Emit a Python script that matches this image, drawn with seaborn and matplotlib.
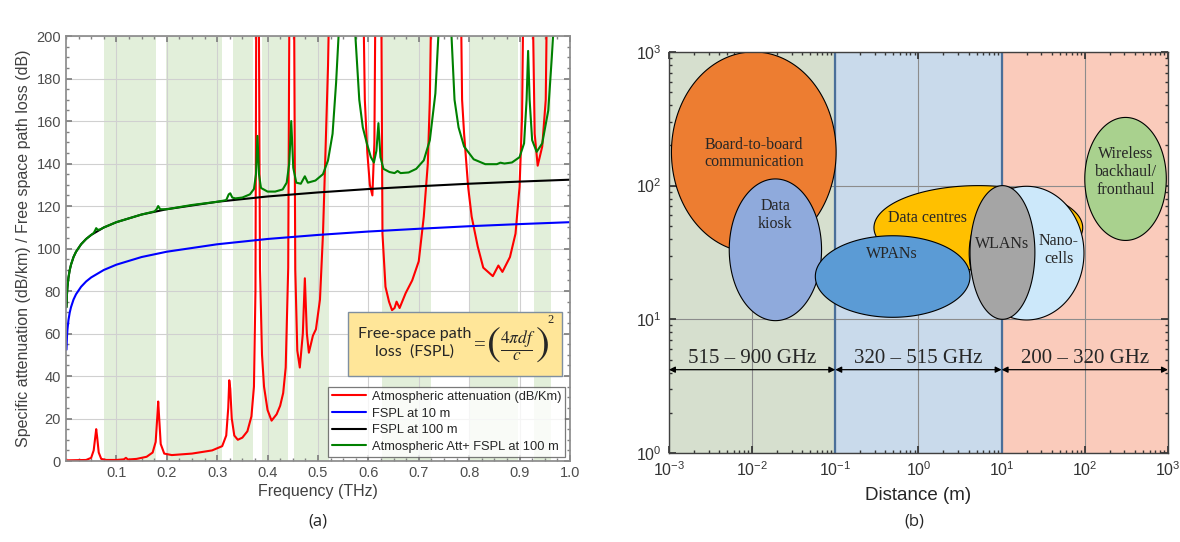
import numpy as np
import matplotlib
matplotlib.use("Agg")
import matplotlib.pyplot as plt
from matplotlib.ticker import MultipleLocator, FormatStrFormatter, LogLocator, NullFormatter
import seaborn as sns

# ---------------- panel (a): values ----------------
# free space path loss curves (dB)
freq_fspl = [0.001, 0.002, 0.003, 0.005, 0.0075, 0.01, 0.015, 0.02, 0.03, 0.04, 0.05,
             0.075, 0.1, 0.15, 0.2, 0.3, 0.4, 0.5, 0.6, 0.7, 0.8, 0.9, 1.0]
fspl_10m = [52.4, 58.5, 62.0, 66.4, 69.9, 72.4, 76.0, 78.5, 82.0, 84.5, 86.4,
            89.9, 92.4, 96.0, 98.5, 102.0, 104.5, 106.4, 108.0, 109.3, 110.5, 111.5, 112.4]
fspl_100m = [72.4, 78.5, 82.0, 86.4, 89.9, 92.4, 96.0, 98.5, 102.0, 104.5, 106.4,
             109.9, 112.4, 116.0, 118.5, 122.0, 124.5, 126.4, 128.0, 129.3, 130.5, 131.5, 132.4]

# atmospheric attenuation (dB/km), peaks run far off the top of the axes
freq_atm = [0.000, 0.040, 0.050, 0.055, 0.058, 0.060, 0.062, 0.065, 0.070, 0.080,
            0.100, 0.115, 0.119, 0.123, 0.140, 0.160, 0.172, 0.178, 0.181, 0.183,
            0.185, 0.188, 0.195, 0.210, 0.250, 0.290, 0.310, 0.318, 0.322, 0.324,
            0.326, 0.329, 0.334, 0.341, 0.350, 0.360, 0.368, 0.373, 0.376, 0.378,
            0.380, 0.382, 0.385, 0.389, 0.393, 0.400, 0.408, 0.418, 0.425, 0.431,
            0.436, 0.441, 0.444, 0.448, 0.452, 0.455, 0.459, 0.464, 0.470, 0.474,
            0.478, 0.482, 0.490, 0.496, 0.504, 0.510, 0.515, 0.520, 0.525, 0.557,
            0.588, 0.593, 0.598, 0.603, 0.608, 0.612, 0.615, 0.620, 0.625, 0.628,
            0.634, 0.641, 0.647, 0.652, 0.656, 0.662, 0.674, 0.687, 0.700, 0.710,
            0.718, 0.722, 0.727, 0.752, 0.782, 0.786, 0.790, 0.798, 0.805, 0.817,
            0.828, 0.847, 0.858, 0.866, 0.881, 0.892, 0.900, 0.905, 0.909, 0.916,
            0.924, 0.930, 0.936, 0.945, 0.952, 0.956, 0.980, 1.000]
atm_att = [0.3, 0.5, 1.5, 5, 11, 15, 11, 4, 1, 0.5,
           0.5, 0.8, 1.5, 0.7, 1.0, 2.0, 4, 9, 20, 28,
           20, 8, 3.5, 2.8, 3.5, 5.0, 7.0, 12, 25, 38,
           34, 20, 12, 10, 11, 14, 21, 35, 80, 250,
           3000, 250, 90, 50, 35, 24, 19, 22, 26, 32,
           44, 91, 250, 2500, 250, 90, 52, 44, 60, 86,
           60, 51, 59, 62, 76, 107, 146, 186, 250, 30000,
           250, 170, 145, 130, 125, 150, 250, 1500, 250, 107,
           82, 75, 71, 72, 75, 72, 79, 85, 94, 115,
           140, 170, 250, 20000, 250, 170, 154, 129, 115, 101,
           91, 87, 92, 89, 96, 107, 129, 162, 250, 2000,
           250, 154, 139, 148, 170, 250, 20000, 20000]

# atmospheric attenuation over 100 m + FSPL at 100 m (dB)
freq_total = [0.001, 0.002, 0.003, 0.005, 0.0075, 0.010, 0.015, 0.020, 0.030, 0.040,
              0.050, 0.055, 0.058, 0.060, 0.063, 0.068, 0.075, 0.100, 0.150, 0.176,
              0.180, 0.183, 0.187, 0.200, 0.250, 0.300, 0.318, 0.323, 0.326, 0.330,
              0.336, 0.350, 0.365, 0.373, 0.377, 0.380, 0.383, 0.387, 0.400, 0.415,
              0.430, 0.438, 0.443, 0.447, 0.451, 0.457, 0.466, 0.474, 0.480, 0.495,
              0.510, 0.520, 0.529, 0.536, 0.542, 0.557, 0.573, 0.582, 0.589, 0.597,
              0.605, 0.611, 0.616, 0.620, 0.624, 0.630, 0.642, 0.652, 0.658, 0.664,
              0.680, 0.695, 0.710, 0.722, 0.733, 0.740, 0.752, 0.764, 0.771, 0.779,
              0.790, 0.809, 0.832, 0.855, 0.862, 0.870, 0.885, 0.900, 0.909, 0.914,
              0.917, 0.920, 0.925, 0.934, 0.945, 0.957, 0.964, 0.969, 0.985, 1.000]
atm_fspl_100m = [72.4, 78.5, 82.0, 86.4, 89.9, 92.4, 96.0, 98.5, 102.0, 104.5,
                 106.4, 107.3, 108.6, 109.6, 108.8, 109.0, 109.9, 112.4, 116.0, 117.5,
                 118.6, 120.0, 118.5, 118.5, 120.5, 122.0, 122.8, 125.5, 126.0, 124.0,
                 123.6, 124.0, 125.5, 128.0, 135.0, 153.0, 135.0, 128.5, 126.8, 126.8,
                 127.8, 131.0, 140.0, 160.0, 138.0, 131.0, 130.5, 134.0, 131.0, 132.0,
                 135.0, 141.5, 154.0, 178.0, 205.0, 3000, 205.0, 170.0, 157.0, 149.5,
                 143.0, 140.5, 146.0, 159.0, 143.0, 137.5, 136.0, 135.5, 136.5, 135.5,
                 135.8, 137.5, 141.5, 151.0, 173.0, 205.0, 2000, 205.0, 170.0, 157.0,
                 148.0, 142.0, 139.7, 139.7, 140.4, 140.0, 140.5, 143.0, 149.5, 170.0,
                 193.0, 170.0, 151.0, 145.5, 149.5, 165.0, 190.0, 210.0, 2000, 2000]

# transmission windows (THz)
window_start = [0.075, 0.198, 0.331, 0.389, 0.452, 0.627, 0.800, 0.929]
window_end = [0.179, 0.310, 0.371, 0.440, 0.522, 0.724, 0.897, 0.962]

# ---------------- panel (b): application map ----------------
band_edges = [1e-3, 1e-1, 1e1, 1e3]
band_names = ["515 – 900 GHz", "320 – 515 GHz", "200 – 320 GHz"]
band_colors = ["#D6DFCE", "#C9DAEB", "#FACBBB"]

# ellipses in decades: centre (log10 m, log10 y) and half extents
app_names = ["Board-to-board\ncommunication", "Data\nkiosk", "Data centres", "WPANs",
             "Nano-\ncells", "WLANs", "Wireless\nbackhaul/\nfronthaul"]
app_cx = [-1.98, -1.72, 0.72, -0.31, 1.30, 1.01, 2.49]
app_cy = [2.25, 1.52, 1.685, 1.32, 1.495, 1.50, 2.05]
app_rx = [0.99, 0.555, 1.255, 0.93, 0.69, 0.39, 0.49]
app_ry = [0.75, 0.53, 0.315, 0.305, 0.50, 0.50, 0.46]
app_colors = ["#ED7D31", "#8FAADC", "#FFC000", "#5B9BD5", "#CCE8FA", "#A5A5A5", "#A9D18E"]
label_x = [-1.98, -1.72, 0.11, -0.32, 1.69, 1.00, 2.49]
label_y = [2.24, 1.78, 1.755, 1.49, 1.52, 1.56, 2.10]

sns.set_theme(style="ticks")
plt.rcParams["font.family"] = ["Liberation Sans", "DejaVu Sans"]

fig = plt.figure(figsize=(11.8, 5.42), dpi=100)
ax = fig.add_axes([0.0559, 0.1494, 0.4271, 0.7841])
ax2 = fig.add_axes([0.5669, 0.1642, 0.4229, 0.7400])

# ---- (a)
for s, e in zip(window_start, window_end):
    ax.axvspan(s, e, color="#E2EFDA", lw=0, zorder=0.5)
ax.set_axisbelow("line")
ax.grid(True, color="#D0D0D0", lw=0.8)

sns.lineplot(x=freq_atm, y=atm_att, ax=ax, color="#FF0000", lw=1.5, sort=False,
             label="Atmospheric attenuation (dB/Km)")
sns.lineplot(x=freq_fspl, y=fspl_10m, ax=ax, color="#0000FF", lw=1.5, sort=False,
             label="FSPL at 10 m")
sns.lineplot(x=freq_fspl, y=fspl_100m, ax=ax, color="black", lw=1.5, sort=False,
             label="FSPL at 100 m")
sns.lineplot(x=freq_total, y=atm_fspl_100m, ax=ax, color="#008000", lw=1.5, sort=False,
             label="Atmospheric Att+ FSPL at 100 m")

ax.set_xlim(0, 1.0)
ax.set_ylim(0, 200)
ax.xaxis.set_major_locator(MultipleLocator(0.1))
ax.xaxis.set_minor_locator(MultipleLocator(0.025))
ax.yaxis.set_major_locator(MultipleLocator(20))
ax.yaxis.set_minor_locator(MultipleLocator(5))
ax.xaxis.set_major_formatter(FormatStrFormatter("%.1f"))
xt = ax.get_xticks()
ax.set_xticks(xt[(xt > 0.05) & (xt < 1.05)])
ax.tick_params(which="both", direction="in", top=True, right=True, colors="#808080",
               labelcolor="#4D4D4D", labelsize=10.5)
ax.tick_params(which="major", length=4)
ax.tick_params(which="minor", length=2)
for sp in ax.spines.values():
    sp.set_color("#8C8C8C")
ax.set_xlabel("Frequency (THz)", fontsize=11.5, color="#404040", labelpad=3)
ax.set_ylabel("Specific attenuation (dB/km) / Free space path loss (dB)", fontsize=11.5,
              color="#404040", labelpad=4)

leg = ax.legend(loc="lower right", fontsize=9.3, frameon=True, fancybox=False,
                borderaxespad=0.35, handlelength=2.6, labelspacing=0.35,
                borderpad=0.3, handletextpad=0.5)
leg.get_frame().set_edgecolor("#595959")
leg.get_frame().set_linewidth(0.9)

# FSPL formula box
box = plt.Rectangle((0.56, 0.2), 0.424, 0.15, transform=ax.transAxes, facecolor="#FFE699",
                    edgecolor="#7F8FA0", lw=1.0, zorder=5)
ax.add_patch(box)
ax.text(0.692, 0.278, "Free-space path\nloss  (FSPL)", transform=ax.transAxes,
        ha="center", va="center", fontsize=11.5, family=["Lato", "DejaVu Sans"],
        linespacing=1.25, zorder=6)
ax.text(0.821, 0.272, "=", transform=ax.transAxes, ha="center", va="center",
        fontsize=15, family="Liberation Serif", zorder=6)
ax.text(0.848, 0.275, "$($", transform=ax.transAxes, ha="center", va="center",
        fontsize=30, math_fontfamily="stix", zorder=6)
ax.text(0.896, 0.272, r"$\dfrac{4\pi df}{c}$", transform=ax.transAxes, ha="center",
        va="center", fontsize=12.5, math_fontfamily="stix", zorder=6)
ax.text(0.944, 0.275, "$)$", transform=ax.transAxes, ha="center", va="center",
        fontsize=30, math_fontfamily="stix", zorder=6)
ax.text(0.961, 0.333, "2", transform=ax.transAxes, ha="center", va="center",
        fontsize=9, family="Liberation Serif", zorder=6)

# ---- (b)
ax2.set_xscale("log")
ax2.set_yscale("log")
for lo, hi, c in zip(band_edges[:-1], band_edges[1:], band_colors):
    ax2.axvspan(lo, hi, color=c, lw=0, zorder=0.5)
ax2.set_axisbelow("line")
ax2.grid(True, which="major", color="#8C8C8C", lw=0.8)
for edge in band_edges[1:-1]:
    ax2.axvline(edge, color="#4A6F99", lw=1.6, zorder=1.6)

t = np.linspace(0, 2 * np.pi, 300)
for cx, cy, rx, ry, c in zip(app_cx, app_cy, app_rx, app_ry, app_colors):
    ax2.fill(10 ** (cx + rx * np.cos(t)), 10 ** (cy + ry * np.sin(t)), facecolor=c,
             edgecolor="black", lw=0.8, zorder=2)
for name, lx, ly in zip(app_names, label_x, label_y):
    ax2.text(10 ** lx, 10 ** ly, name, ha="center", va="center", fontsize=11.5,
             family="Liberation Serif", linespacing=1.15, zorder=3)

arrow_y = 4.2
for lo, hi, name in zip(band_edges[:-1], band_edges[1:], band_names):
    ax2.annotate("", xy=(hi, arrow_y), xytext=(lo, arrow_y),
                 arrowprops=dict(arrowstyle="<|-|>", color="black", lw=0.9,
                                 shrinkA=0, shrinkB=0, mutation_scale=9), zorder=3)
    ax2.text(np.sqrt(lo * hi), 5.1, name, ha="center", va="center", fontsize=15,
             family="Liberation Serif", zorder=3)

ax2.set_xlim(1e-3, 1e3)
ax2.set_ylim(1e0, 1e3)
ax2.xaxis.set_major_locator(LogLocator(base=10, numticks=10))
ax2.yaxis.set_major_locator(LogLocator(base=10, numticks=10))
ax2.xaxis.set_minor_locator(LogLocator(base=10, subs=np.arange(2, 10), numticks=20))
ax2.yaxis.set_minor_locator(LogLocator(base=10, subs=np.arange(2, 10), numticks=20))
ax2.xaxis.set_minor_formatter(NullFormatter())
ax2.yaxis.set_minor_formatter(NullFormatter())
ax2.tick_params(which="both", direction="in", top=True, right=True, colors="#333333",
                labelsize=11.5, pad=5)
ax2.tick_params(which="major", length=5)
ax2.tick_params(which="minor", length=2.5)
for sp in ax2.spines.values():
    sp.set_color("#404040")
    sp.set_linewidth(1.0)
ax2.set_xlabel("Distance (m)", fontsize=13.5, labelpad=6)

fig.text(0.269, 0.037, "(a)", ha="center", va="center", fontsize=12,
         family=["Open Sans", "DejaVu Sans"])
fig.text(0.775, 0.037, "(b)", ha="center", va="center", fontsize=12,
         family=["Open Sans", "DejaVu Sans"])

fig.savefig("out.png", dpi=100)
